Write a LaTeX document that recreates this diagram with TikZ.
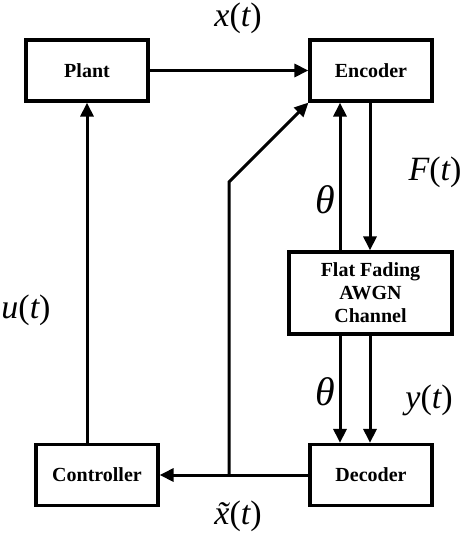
\documentclass[tikz,border=0pt]{standalone}
\usepackage{fontspec}
\setmainfont{Liberation Serif}
\usetikzlibrary{arrows.meta}
\begin{document}
\begin{tikzpicture}[x=1pt,y=-1pt,
  blk/.style={draw,line width=3.2pt,minimum width=122pt,minimum height=61pt,inner sep=0pt,font=\fontsize{20}{23}\selectfont\bfseries,align=center},
  lnk/.style={line width=3pt},
  arr/.style={lnk,-{Triangle[length=14pt,width=13pt]}},
  lbl/.style={font=\fontsize{34}{36}\selectfont,inner sep=0pt},
  thl/.style={font=\fontsize{40}{42}\selectfont,inner sep=0pt}]
\useasboundingbox (0,0) rectangle (464,540);
\node[blk] (plant) at (87,70.5) {Plant};
\node[blk] (enc) at (371,70.5) {Encoder};
\node[blk] (ctrl) at (97,475) {Controller};
\node[blk] (dec) at (371,475) {Decoder};
\node[blk,minimum width=163pt,minimum height=82pt] (ch) at (370.5,293) {Flat Fading\\AWGN\\Channel};
\coordinate (j) at (229,474);
\coordinate (bend) at (229,182);
\coordinate (tx) at (340,0);
\coordinate (fx) at (370,0);
\draw[arr] (plant.east) -- (enc.west);
\draw[arr] (ctrl.north -| plant.south) -- (plant.south);
\draw[arr] (dec.west) -- (ctrl.east);
\draw[arr] (j) -- (bend) -- (enc.south west);
\draw[arr] (ch.north -| tx) -- (enc.south -| tx);
\draw[arr] (enc.south -| fx) -- (ch.north -| fx);
\draw[arr] (ch.south -| tx) -- (dec.north -| tx);
\draw[arr] (ch.south -| fx) -- (dec.north -| fx);
\node[lbl] (lx) at (238,18) {\itshape x\upshape(\itshape t\upshape)};
\node[lbl] (lF) at (435,172) {\itshape F\upshape(\itshape t\upshape)};
\node[thl] (lth1) at (325,200) {\itshape θ};
\node[lbl] (lu) at (26,310) {\itshape u\upshape(\itshape t\upshape)};
\node[thl] (lth2) at (325,392) {\itshape θ};
\node[lbl] (ly) at (429,400) {\itshape y\upshape(\itshape t\upshape)};
\node[lbl] (lxt) at (238,516) {\itshape \~{x}\upshape(\itshape t\upshape)};
\end{tikzpicture}
\end{document}
